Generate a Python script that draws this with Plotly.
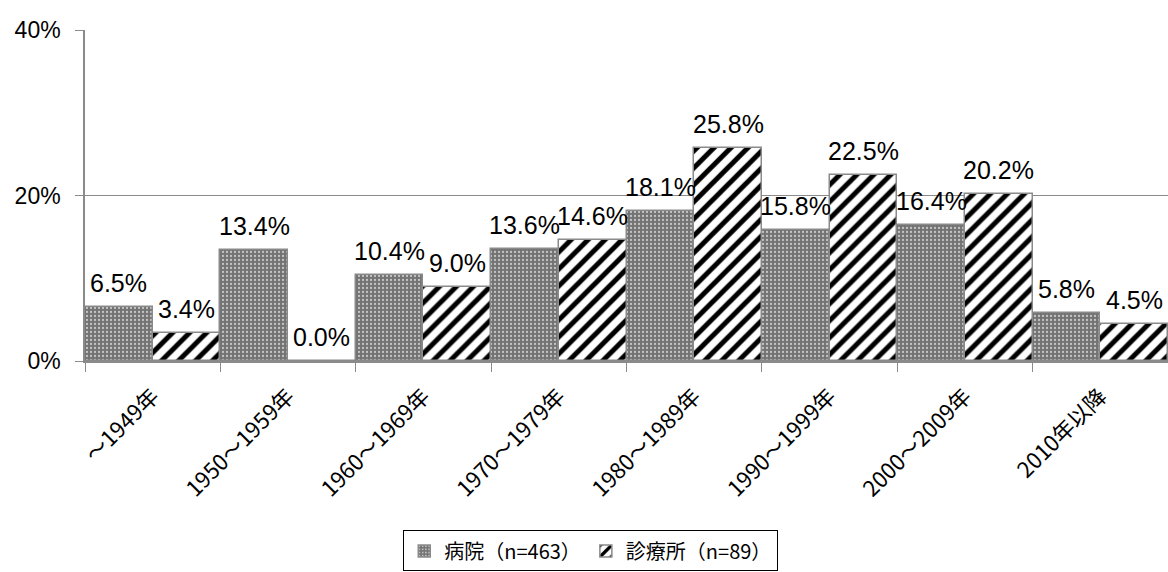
import plotly.graph_objects as go

categories = ["～1949年", "1950～1959年", "1960～1969年", "1970～1979年",
              "1980～1989年", "1990～1999年", "2000～2009年", "2010年以降"]
hospital = [6.5, 13.4, 10.4, 13.6, 18.1, 15.8, 16.4, 5.8]
clinic = [3.4, 0.0, 9.0, 14.6, 25.8, 22.5, 20.2, 4.5]
series_names = ["病院（n=463）", "診療所（n=89）"]
y_ticks = [0, 20, 40]

num_font = "Liberation Sans, Arial, Noto Sans CJK JP"
jp_font = "Noto Sans CJK JP, Liberation Sans"
edge = "#8a8a8a"

fig = go.Figure()
fig.add_trace(go.Bar(
    x=categories, y=hospital, name=series_names[0],
    marker=dict(
        color="#808080",
        line=dict(color=edge, width=1.5),
        pattern=dict(shape=".", fgcolor="#c4c4c4", fgopacity=1, bgcolor="#737373",
                     size=4, solidity=0.25, fillmode="overlay"),
    ),
))
fig.add_trace(go.Bar(
    x=categories, y=clinic, name=series_names[1],
    marker=dict(
        color="white",
        line=dict(color=edge, width=1.5),
        pattern=dict(shape="/", fgcolor="black", fgopacity=1, bgcolor="white",
                     size=12, solidity=0.42, fillmode="overlay"),
    ),
))

# value labels above each bar of the two groups
plot_w = 1168 - 85
half_slot = plot_w / len(categories) / 4
for cat, h, c in zip(categories, hospital, clinic):
    for val, dx in ((h, -half_slot), (c, half_slot)):
        fig.add_annotation(
            x=cat, y=val, xref="x", yref="y",
            text=f"{val:.1f}%", showarrow=False,
            xanchor="center", yanchor="bottom",
            xshift=dx, yshift=8,
            font=dict(family=num_font, size=25, color="black"),
        )

fig.update_layout(
    width=1168, height=572,
    margin=dict(l=85, r=0, t=30, b=208),
    paper_bgcolor="white", plot_bgcolor="white",
    barmode="group", bargap=0, bargroupgap=0,
    showlegend=True,
    legend=dict(
        orientation="h", x=0.467, xanchor="center", y=-0.512, yanchor="top",
        bordercolor="black", borderwidth=1,
        font=dict(family=jp_font, size=20, color="black"),
        itemwidth=30,
    ),
    xaxis=dict(
        type="category", tickson="boundaries", tickangle=-45,
        showline=True, linecolor=edge, linewidth=1.5,
        ticks="outside", ticklen=9, tickcolor=edge,
        showgrid=False, ticklabelstandoff=12,
        tickfont=dict(family=jp_font, size=22, color="black"),
    ),
    yaxis=dict(
        range=[0, 40.02], tickvals=y_ticks,
        ticktext=[f"{v}%" for v in y_ticks],
        showline=True, linecolor=edge, linewidth=1.5,
        ticks="outside", ticklen=8, tickcolor=edge,
        showgrid=True, gridcolor=edge, gridwidth=1,
        zeroline=False, ticklabelstandoff=10,
        tickfont=dict(family=num_font, size=23, color="black"),
    ),
)

fig.write_html("out.html")
